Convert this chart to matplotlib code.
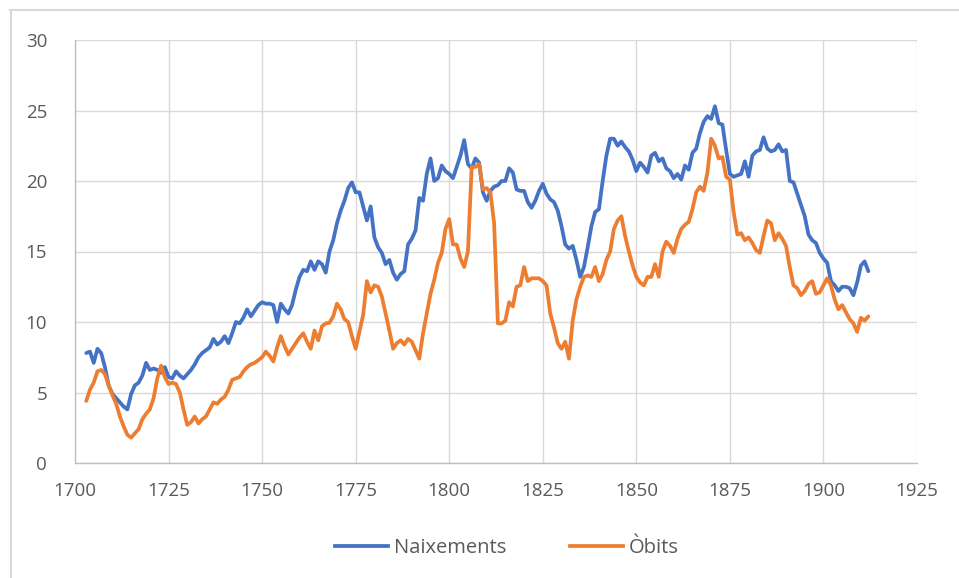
import matplotlib
matplotlib.use("Agg")
import matplotlib.pyplot as plt
from matplotlib.lines import Line2D

years = list(range(1703, 1913))

naixements = [
    7.8, 7.9, 7.1, 8.1, 7.8, 6.8, 5.5, 4.9, 4.6, 4.3,          # 1703-1712
    4.0, 3.8, 4.9, 5.5, 5.7, 6.2, 7.1, 6.6, 6.7, 6.6,          # 1713-1722
    6.4, 6.8, 6.1, 6.0, 6.5, 6.2, 6.0, 6.3, 6.6, 7.0,          # 1723-1732
    7.5, 7.8, 8.0, 8.2, 8.8, 8.4, 8.6, 9.0, 8.5, 9.2,          # 1733-1742
    10.0, 9.9, 10.3, 10.9, 10.4, 10.8, 11.2, 11.4, 11.3, 11.3, # 1743-1752
    11.2, 10.0, 11.3, 10.9, 10.6, 11.2, 12.3, 13.2, 13.7, 13.6, # 1753-1762
    14.3, 13.7, 14.3, 14.1, 13.5, 15.0, 15.8, 17.0, 17.9, 18.6, # 1763-1772
    19.5, 19.9, 19.2, 19.2, 18.2, 17.2, 18.2, 16.0, 15.3, 14.9, # 1773-1782
    14.1, 14.4, 13.5, 13.0, 13.4, 13.6, 15.5, 15.9, 16.5, 18.8, # 1783-1792
    18.6, 20.5, 21.6, 20.0, 20.2, 21.1, 20.7, 20.5, 20.2, 21.0, # 1793-1802
    21.8, 22.9, 21.2, 20.9, 21.6, 21.3, 19.2, 18.6, 19.3, 19.6, # 1803-1812
    19.7, 20.0, 20.0, 20.9, 20.6, 19.4, 19.3, 19.3, 18.5, 18.1, # 1813-1822
    18.6, 19.3, 19.8, 19.1, 18.7, 18.5, 17.9, 16.8, 15.5, 15.2, # 1823-1832
    15.4, 14.4, 13.2, 13.9, 15.3, 16.8, 17.8, 18.0, 20.0, 21.8, # 1833-1842
    23.0, 23.0, 22.5, 22.8, 22.4, 22.1, 21.5, 20.7, 21.3, 21.0, # 1843-1852
    20.6, 21.8, 22.0, 21.4, 21.6, 20.9, 20.7, 20.2, 20.5, 20.1, # 1853-1862
    21.1, 20.8, 22.0, 22.3, 23.4, 24.2, 24.6, 24.4, 25.3, 24.1, # 1863-1872
    24.0, 22.2, 20.5, 20.3, 20.4, 20.5, 21.4, 20.3, 21.8, 22.1, # 1873-1882
    22.2, 23.1, 22.3, 22.1, 22.2, 22.6, 22.1, 22.2, 20.0, 19.9, # 1883-1892
    19.1, 18.3, 17.5, 16.2, 15.8, 15.6, 14.9, 14.5, 14.2, 12.9, # 1893-1902
    12.6, 12.2, 12.5, 12.5, 12.4, 11.9, 12.8, 14.0, 14.3, 13.6, # 1903-1912
]

obits = [
    4.4, 5.2, 5.7, 6.5, 6.6, 6.3, 5.5, 4.8, 4.2, 3.3,          # 1703-1712
    2.6, 2.0, 1.8, 2.1, 2.4, 3.1, 3.5, 3.8, 4.6, 6.0,          # 1713-1722
    6.9, 6.1, 5.6, 5.7, 5.6, 5.0, 3.8, 2.7, 2.9, 3.3,          # 1723-1732
    2.8, 3.1, 3.3, 3.8, 4.3, 4.2, 4.5, 4.7, 5.2, 5.9,          # 1733-1742
    6.0, 6.1, 6.5, 6.8, 7.0, 7.1, 7.3, 7.5, 7.9, 7.6,          # 1743-1752
    7.2, 8.2, 9.0, 8.3, 7.7, 8.1, 8.5, 8.9, 9.2, 8.6,          # 1753-1762
    8.1, 9.4, 8.7, 9.7, 9.9, 9.95, 10.4, 11.3, 10.9, 10.2,     # 1763-1772
    10.0, 9.0, 8.1, 9.3, 10.5, 12.9, 12.1, 12.6, 12.5, 11.8,   # 1773-1782
    10.6, 9.4, 8.1, 8.5, 8.7, 8.4, 8.8, 8.6, 8.0, 7.4,         # 1783-1792
    9.2, 10.6, 12.0, 13.0, 14.2, 14.9, 16.6, 17.3, 15.5, 15.5, # 1793-1802
    14.5, 13.9, 15.0, 21.0, 21.0, 21.2, 19.4, 19.5, 19.2, 17.0, # 1803-1812
    9.9, 9.9, 10.1, 11.4, 11.1, 12.5, 12.6, 13.9, 12.9, 13.1,  # 1813-1822
    13.1, 13.1, 12.9, 12.6, 10.6, 9.6, 8.5, 8.1, 8.6, 7.4,     # 1823-1832
    10.1, 11.6, 12.5, 13.2, 13.3, 13.2, 13.9, 12.9, 13.4, 14.4, # 1833-1842
    15.0, 16.6, 17.2, 17.5, 16.1, 15.0, 14.0, 13.2, 12.8, 12.6, # 1843-1852
    13.2, 13.2, 14.1, 13.2, 15.0, 15.7, 15.4, 14.9, 15.9, 16.6, # 1853-1862
    16.9, 17.1, 18.0, 19.2, 19.6, 19.3, 20.6, 23.0, 22.5, 21.6, # 1863-1872
    21.7, 20.3, 20.1, 17.8, 16.2, 16.3, 15.8, 16.0, 15.6, 15.1, # 1873-1882
    14.9, 16.1, 17.2, 17.0, 15.8, 16.3, 15.9, 15.4, 13.9, 12.6, # 1883-1892
    12.4, 11.9, 12.2, 12.7, 12.9, 12.0, 12.1, 12.6, 13.1, 12.6, # 1893-1902
    11.6, 10.9, 11.2, 10.7, 10.2, 9.9, 9.3, 10.3, 10.1, 10.4,  # 1903-1912
]

x_ticks = [1700, 1725, 1750, 1775, 1800, 1825, 1850, 1875, 1900, 1925]
y_ticks = [0, 5, 10, 15, 20, 25, 30]

plt.rcParams['font.family'] = ['Open Sans', 'DejaVu Sans']

W, H = 959, 578
fig = plt.figure(figsize=(W / 100, H / 100), dpi=100)
ax = fig.add_axes([75 / W, (H - 463) / H, (917 - 75) / W, (463 - 40) / H])

blue = '#4472C4'
orange = '#ED7D31'
grid_c = '#D9D9D9'
text_c = '#595959'
LW = 2.7

ax.plot(years, naixements, color=blue, lw=LW, solid_capstyle='round',
        solid_joinstyle='round', label='Naixements', zorder=3)
ax.plot(years, obits, color=orange, lw=LW, solid_capstyle='round',
        solid_joinstyle='round', label='Òbits', zorder=3)

ax.set_xlim(1700, 1925)
ax.set_ylim(0, 30)
ax.set_xticks(x_ticks)
ax.set_yticks(y_ticks)
ax.grid(True, color=grid_c, lw=1.0)
ax.set_axisbelow(True)
for s in ['top', 'right']:
    ax.spines[s].set_visible(False)
for s in ['left', 'bottom']:
    ax.spines[s].set_color('#BFBFBF')
    ax.spines[s].set_linewidth(1.0)
ax.tick_params(axis='both', length=0, labelsize=13.5, colors=text_c)
ax.tick_params(axis='y', pad=20)
ax.tick_params(axis='x', pad=14)

handles = [Line2D([0], [0], color=blue, lw=LW),
           Line2D([0], [0], color=orange, lw=LW)]
fig.legend(handles, ['Naixements', 'Òbits'], loc='center',
           bbox_to_anchor=(507 / W, (H - 548) / H), ncol=2, frameon=False,
           fontsize=14.5, labelcolor=text_c, handlelength=2.6,
           handletextpad=0.3, columnspacing=3.2)

# outer frame (top and left edges visible)
fig.add_artist(Line2D([10 / W, 1.0], [(H - 9.5) / H, (H - 9.5) / H],
                      transform=fig.transFigure, color=grid_c, lw=1.5))
fig.add_artist(Line2D([10.5 / W, 10.5 / W], [0, (H - 9.5) / H],
                      transform=fig.transFigure, color=grid_c, lw=1.5))

fig.savefig('out.png', dpi=100, facecolor='white')
